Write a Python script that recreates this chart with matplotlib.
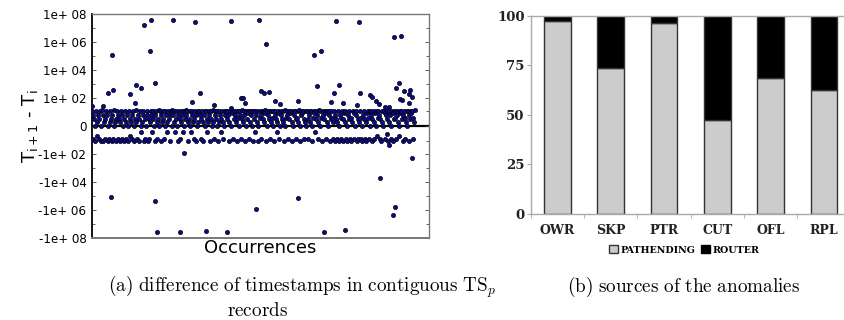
import numpy as np
import matplotlib
matplotlib.use("Agg")
import matplotlib.pyplot as plt
from matplotlib.patches import Patch

# ---------------- data: left panel ----------------
# dense band of small differences; one char = one occurrence (x step 2)
band_codes = (
    "a5n2m0a1k5n2am0b5m1n2a5m0n1a2m5n0b1m2a5n"
    "2m1a5n0m2a1n5m0a2k1n5a0m2b1n5m2a0j1a5m2n"
    "0a5m2n1a5j2a0m5a1n2b0a5m1a2n0a5j1a2m5a0b"
    "5a1j2a0m5a2n1a5j0a2b5a1m2a0j5a1n2a5m0a1a"
    "5n2a1m5a0a2j1a5m2a0b1n5a2a0m1a5j2a1n0a5a"
    "2a5m1a0a7n2a5a1m3a0a5n2b1a5m0a2a7n1a5a0m"
    "a2j5a1m0a3n5a2a1b7m0a5a2n1a3a0m5a2j1a7n0"
    "5a2a1m0b3a5n2a7a1m0a5a2n3a1b0m5a7a2n1a0a"
    "2n5a1a0m3a7j2a5n1b0a3m5a2a7n1a0a5m2a3n1a"
    "5m2n1a0m5n3a2m7a1n0m5a2n3m1a7n0a5m2n1a3n"
    "0m5a2n1m7a3n0a5m2a1n7a0k3a5n2m1a0a7n5a2m"
    "1a5n0a7m2a3n5a1k0a7a2m5a3n1a0a5m2a7a3n1b"
)
code_values = {"0": 0, "1": 1, "2": 2, "3": 3, "5": 5, "7": 7, "a": 10, "b": 13,
               "n": -8, "m": -10, "k": -4, "j": -1.5}

# scattered large differences
out_x = [154, 175, 240, 306, 412, 497, 725, 792, 895, 917,
         60, 171, 517, 659, 679,
         186, 911, 46, 63, 112, 130, 145, 320, 668, 733, 718, 902, 926, 944,
         796, 824, 502, 511, 526, 941,
         0, 128, 34, 297, 363, 413, 443, 449, 455, 544, 558, 612, 710, 745,
         786, 830, 843, 851, 870, 881, 913, 920, 942, 949,
         273, 56, 187, 488, 612, 855, 900, 893, 194, 262, 337, 401, 687, 750,
         950, 882, 874]
out_y = [1.7e7, 3.7e7, 3.5e7, 2.8e7, 3.3e7, 3.9e7, 3.3e7, 2.5e7, 2.3e6, 2.6e6,
         1.1e5, 2.3e5, 7.6e5, 1.2e5, 2.1e5,
         1100, 1150, 245, 355, 195, 870, 525, 230, 775, 870, 245, 500, 325, 380,
         245, 165, 325, 245, 257, 186,
         26, 40, 25, 55, 30, 18, 95, 95, 45, 60, 35, 60, 50, 40,
         30, 120, 60, 35, 20, 20, 80, 70, 45, 110,
         -90, -1.15e5, -2.3e5, -8e5, -1.35e5, -4900, -5.8e5, -2.3e6, -3.5e7, -3.5e7,
         -3e7, -3.5e7, -3.5e7, -2.6e7,
         -200, -20, -3]

ytick_vals = [-1e8, -1e6, -1e4, -1e2, 0, 1e2, 1e4, 1e6, 1e8]
ytick_labels = ["-1e+ 08", "-1e+ 06", "-1e+ 04", "-1e+ 02", "0",
                "1e+ 02", "1e+ 04", "1e+ 06", "1e+ 08"]

# ---------------- data: right panel ----------------
categories = ["OWR", "SKP", "PTR", "CUT", "OFL", "RPL"]
pathending = [97.5, 73.5, 96.5, 47.6, 68.6, 62.5]
router = [100 - v for v in pathending]
bar_yticks = [0, 25, 50, 75, 100]

# ---------------- figure ----------------
W, H = 844, 320
fig = plt.figure(figsize=(W / 100, H / 100), dpi=100)
plt.rcParams["mathtext.fontset"] = "cm"


def fwd(y):
    y = np.asarray(y, dtype=float)
    return np.sign(y) * np.log10(1 + np.abs(y))


def inv(t):
    t = np.asarray(t, dtype=float)
    return np.sign(t) * (10 ** np.abs(t) - 1)


def px_axes(l, r, t, b):
    return fig.add_axes([l / W, 1 - b / H, (r - l) / W, (b - t) / H])


# left panel
ax1 = px_axes(92, 429, 14, 238)
ax1.set_yscale("function", functions=(fwd, inv))
band_x = np.arange(len(band_codes)) * 2
band_y = np.array([code_values[c] for c in band_codes], dtype=float)
ax1.axhline(0, color="black", lw=1.6, zorder=1)
ax1.scatter(band_x, band_y, s=9, facecolor="#0a0a90", edgecolor="black",
            linewidths=0.5, zorder=3)
ax1.scatter(out_x, out_y, s=9, facecolor="#0a0a90", edgecolor="black",
            linewidths=0.5, zorder=3)
ax1.set_xlim(0, 1000)
ax1.set_ylim(-1e8, 1e8)
ax1.set_xticks([])
ax1.set_yticks(ytick_vals)
ax1.set_yticklabels(ytick_labels, fontsize=8.6, family="DejaVu Sans")
minor = [-1e7, -1e5, -1e3, -10, 10, 1e3, 1e5, 1e7]
ax1.set_yticks(minor, minor=True)
ax1.tick_params(axis="y", which="both", direction="in", length=3, width=0.6,
                color="#444444", pad=4, right=True)
ax1.tick_params(axis="y", which="minor", length=2)
for side in ["top", "right", "bottom"]:
    ax1.spines[side].set_color("#777777")
    ax1.spines[side].set_linewidth(1.0)
ax1.spines["left"].set_color("black")
ax1.spines["left"].set_linewidth(1.3)
ax1.spines["bottom"].set_linewidth(1.4)
ax1.set_ylabel(r"T$_\mathregular{i+1}$ - T$_\mathregular{i}$", fontsize=13,
               family="DejaVu Sans")
ax1.yaxis.set_label_coords(-0.152, 0.5)
ax1.set_xlabel("Occurrences", fontsize=13, family="DejaVu Sans", labelpad=1)

# right panel
ax2 = px_axes(530.7, 530.7 + 6 * 53.3, 15.7, 214)
x = np.arange(len(categories))
ax2.bar(x, pathending, width=0.5, color="#cccccc", edgecolor="#333333",
        linewidth=1.0, label="PATHENDING", zorder=2)
ax2.bar(x, router, width=0.5, bottom=pathending, color="black",
        edgecolor="#333333", linewidth=1.0, label="ROUTER", zorder=2)
ax2.set_xlim(-0.5, 5.5)
ax2.set_ylim(0, 100)
ax2.set_yticks(bar_yticks)
ax2.set_yticklabels([str(v) for v in bar_yticks], fontsize=9.5,
                    family="DejaVu Serif", fontweight="bold", color="#222222")
ax2.set_xticks(x)
ax2.set_xticklabels(categories, fontsize=9, family="DejaVu Serif",
                    fontweight="bold", color="#222222")
ax2.set_xticks(np.arange(-0.5, 6, 1), minor=True)
ax2.tick_params(axis="x", which="major", length=0, pad=7)
ax2.tick_params(axis="x", which="minor", length=3, color="#aaaaaa")
ax2.tick_params(axis="y", length=3, color="#aaaaaa", pad=1.5)
for side in ["top", "left", "bottom"]:
    ax2.spines[side].set_color("#aaaaaa")
    ax2.spines[side].set_linewidth(1.0)
ax2.spines["right"].set_visible(False)
handles = [Patch(facecolor="#cccccc", edgecolor="#333333", label="PATHENDING"),
           Patch(facecolor="black", edgecolor="black", label="ROUTER")]
fig.legend(handles=handles, loc="center", bbox_to_anchor=(684.5 / W, 1 - 250 / H),
           ncol=2, frameon=False, handlelength=0.9, handleheight=0.9,
           handletextpad=0.3, columnspacing=0.6,
           prop={"family": "DejaVu Serif", "weight": "bold", "size": 6.8})

# captions
fig.text(108 / W, 1 - 287 / H,
         r"$\mathrm{(a)\ difference\ of\ timestamps\ in\ contiguous\ TS}_p$",
         fontsize=13.8, ha="left", va="center")
fig.text(258 / W, 1 - 311 / H, r"$\mathrm{records}$", fontsize=13.8,
         ha="center", va="center")
fig.text(684 / W, 1 - 287 / H, r"$\mathrm{(b)\ sources\ of\ the\ anomalies}$",
         fontsize=13.8, ha="center", va="center")

fig.savefig("out.png", dpi=100)
